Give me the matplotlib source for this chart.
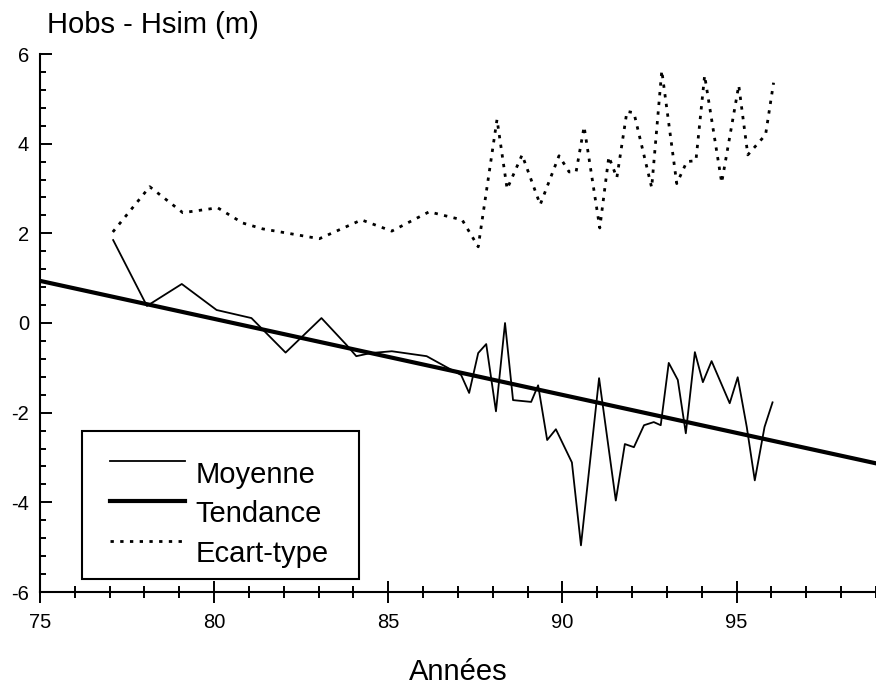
import matplotlib
matplotlib.use("Agg")
import matplotlib.pyplot as plt
import numpy as np
from matplotlib.ticker import MultipleLocator
from matplotlib.legend_handler import HandlerLine2D

plt.rcParams['font.family'] = ['Liberation Sans', 'DejaVu Sans']
plt.rcParams['axes.unicode_minus'] = False

# Moyenne (Hobs - Hsim)
annees_moy = [77.1, 78.07, 79.07, 80.07, 81.07, 82.05, 83.08, 83.8, 84.08, 84.5,
              85.1, 86.1, 86.66, 87.09, 87.32, 87.58, 87.81, 88.09, 88.35, 88.58,
              89.1, 89.3, 89.56, 89.81, 90.27, 90.53, 91.05, 91.53, 91.79, 92.05,
              92.34, 92.62, 92.82, 93.05, 93.31, 93.54, 93.8, 94.03, 94.28, 94.8,
              95.03, 95.29, 95.52, 95.8, 96.03]
moyenne = [1.85, 0.38, 0.87, 0.29, 0.11, -0.66, 0.11, -0.49, -0.74, -0.67,
           -0.63, -0.74, -0.98, -1.16, -1.56, -0.67, -0.47, -1.97, 0.0, -1.72,
           -1.76, -1.39, -2.61, -2.37, -3.11, -4.96, -1.23, -3.96, -2.70, -2.77,
           -2.28, -2.21, -2.28, -0.89, -1.27, -2.46, -0.65, -1.32, -0.85, -1.79,
           -1.21, -2.32, -3.51, -2.32, -1.77]

# Ecart-type
annees_ect = [77.09, 78.15, 79.1, 80.1, 80.82, 81.39, 83.02, 84.23, 85.1, 86.17,
              87.12, 87.58, 88.12, 88.41, 88.84, 89.36, 89.9, 90.19, 90.39, 90.62,
              91.07, 91.33, 91.56, 91.85, 92.05, 92.56, 92.85, 93.28, 93.57, 93.83,
              94.08, 94.57, 95.06, 95.32, 95.83, 96.06]
ecart_type = [2.03, 3.04, 2.46, 2.57, 2.23, 2.10, 1.88, 2.30, 2.05, 2.48,
              2.30, 1.70, 4.54, 2.99, 3.75, 2.64, 3.73, 3.37, 3.37, 4.38,
              2.12, 3.71, 3.24, 4.72, 4.69, 3.02, 5.63, 3.11, 3.60, 3.62,
              5.52, 3.13, 5.30, 3.75, 4.20, 5.36]

# Tendance (droite)
annees_tend = [75, 99]
tendance = [0.94, -3.13]


# traits de la légende : décalés vers le haut et vers la droite, comme sur l'original
class HandlerHaut(HandlerLine2D):
    def create_artists(self, legend, orig_handle, xdescent, ydescent,
                       width, height, fontsize, trans):
        artistes = super().create_artists(legend, orig_handle, xdescent, ydescent,
                                          width, height, fontsize, trans)
        for a in artistes:
            a.set_ydata(np.asarray(a.get_ydata(), dtype=float) + 8)
            xd = np.asarray(a.get_xdata(), dtype=float)
            if len(xd) > 1:
                a.set_xdata(np.linspace(xd[0] + 12.5, xd[-1], len(xd)))
        return artistes


fig = plt.figure(figsize=(8.76, 6.86), dpi=100)
ax = fig.add_axes([40/876, 94/686, 836/876, 538/686])

l1, = ax.plot(annees_moy, moyenne, color='black', lw=1.3, label='Moyenne')
l2, = ax.plot(annees_tend, tendance, color='black', lw=3.0, label='Tendance')
l3, = ax.plot(annees_ect, ecart_type, color='black', lw=2.0, linestyle=(0, (1.2, 2.3)),
              label='Ecart-type')

ax.set_xlim(75, 99)
ax.set_ylim(-6, 6)

ax.spines['top'].set_visible(False)
ax.spines['right'].set_visible(False)
ax.spines['left'].set_linewidth(1.5)
ax.spines['bottom'].set_linewidth(1.5)

ax.xaxis.set_major_locator(MultipleLocator(5))
ax.xaxis.set_minor_locator(MultipleLocator(1))
ax.yaxis.set_major_locator(MultipleLocator(2))
ax.yaxis.set_minor_locator(MultipleLocator(0.4))

ax.tick_params(axis='x', which='major', direction='inout', length=16, width=1.4,
               pad=7, labelsize=14.5)
ax.tick_params(axis='x', which='minor', direction='inout', length=9, width=1.4)
ax.tick_params(axis='y', which='major', direction='in', length=8.5, width=1.4,
               pad=8, labelsize=14.5)
ax.tick_params(axis='y', which='minor', direction='in', length=4.3, width=1.4)

ax.set_xlabel('Années', fontsize=21)
ax.xaxis.set_label_coords(0.5, -0.122)

fig.text(47/876, 1 - 33/686, 'Hobs - Hsim (m)', fontsize=21, va='baseline', ha='left')

hh = HandlerHaut()
leg = ax.legend(loc='lower left', bbox_to_anchor=(0.0502, 0.0242, 0.331, 0.273),
                mode='expand', fontsize=21, title=' ', title_fontsize=5.5,
                handlelength=3.15, handletextpad=0.35, borderpad=0.38,
                labelspacing=0.4, borderaxespad=0, fancybox=False, framealpha=1,
                handler_map={l1: hh, l2: hh, l3: hh})
leg.get_frame().set_edgecolor('black')
leg.get_frame().set_linewidth(1.5)

fig.savefig('out.png', dpi=100)
